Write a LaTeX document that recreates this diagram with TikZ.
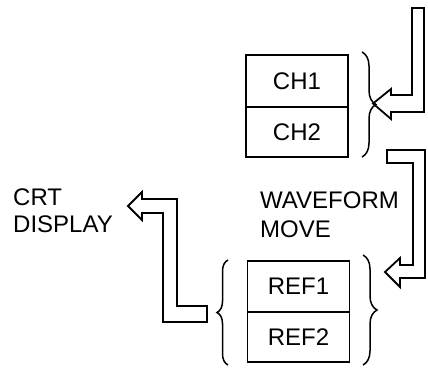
\documentclass[tikz,border=0pt]{standalone}
\usepackage{fontspec}
\setmainfont{Liberation Sans}
\usetikzlibrary{decorations.pathreplacing}
\begin{document}
\begin{tikzpicture}[x=1pt,y=-1pt,
  lw/.style={line width=1.8pt},
  cell/.style={lw,draw,rectangle,minimum width=102pt,inner sep=0pt,font=\fontsize{24}{27}\selectfont},
  lbl/.style={inner sep=0pt,anchor=base west,font=\fontsize{24}{27}\selectfont},
  hollow/.style={lw,draw,line join=miter},
  bracedec/.style={line width=1.5pt,decorate,decoration={brace,amplitude=#1}}]
\useasboundingbox (0,0) rectangle (428,367);
% boxes
\node[cell,minimum height=52pt] (ch1) at (297,81) {CH1};
\node[cell,minimum height=50pt] (ch2) at (297,132) {CH2};
\node[cell,minimum height=51pt] (ref1) at (298.5,286.5) {REF1};
\node[cell,minimum height=50pt] (ref2) at (298.5,337) {REF2};
% labels
\node[lbl] (wf) at (260,208) {WAVEFORM};
\node[lbl] (mv) at (260,237) {MOVE};
\node[lbl] (crt) at (13,205) {CRT};
\node[lbl] (disp) at (13,232) {DISPLAY};
% braces
\draw[bracedec=14pt] (362,52) -- (362,157);
\draw[bracedec=14pt] (363,255) -- (363,365);
\draw[bracedec=11pt] (228,365) -- (228,260);
% hollow arrow into CH
\draw[hollow] (424,8) -- (424,112) -- (391,112) -- (391,119) -- (373,103.5) -- (391,89)
  -- (391,95) -- (412,95) -- (412,8) -- cycle;
% hollow arrow into REF
\draw[hollow] (387,150) -- (425,150) -- (425,278) -- (400,278) -- (400,287) -- (385,272)
  -- (400,258) -- (400,265) -- (413,265) -- (413,163) -- (387,163) -- cycle;
% hollow arrow to CRT display
\draw[hollow] (207,306) -- (177,306) -- (177,199) -- (142,199) -- (142,192) -- (128,206)
  -- (142,220) -- (142,213) -- (163,213) -- (163,322) -- (207,322) -- cycle;
\end{tikzpicture}
\end{document}
